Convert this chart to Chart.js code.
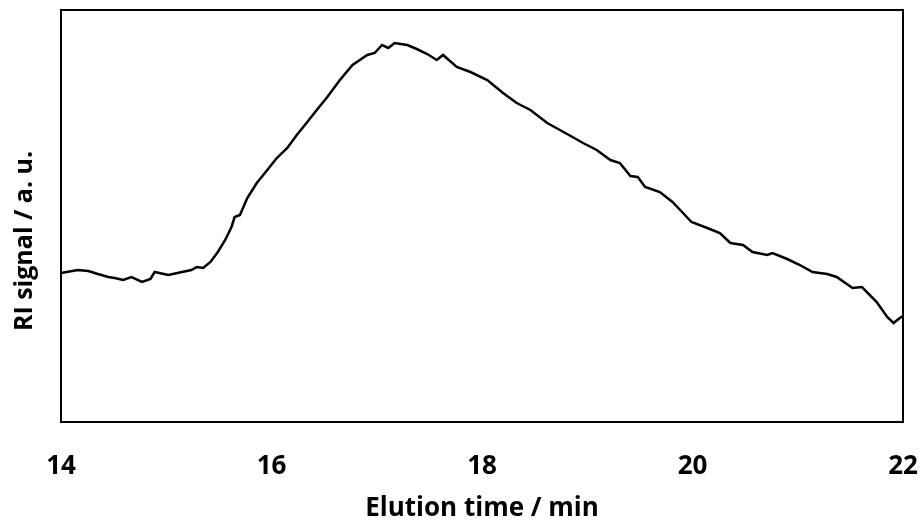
<!DOCTYPE html>
<html>
<head>
<meta charset="utf-8">
<script src="https://cdn.jsdelivr.net/npm/chart.js@4.4.1/dist/chart.umd.min.js"></script>
<style>
    html, body { margin: 0; padding: 0; background: #fff; }
    #wrap { width: 922px; height: 526px; }
</style>
</head>
<body>
<div id="wrap"><canvas id="riChart" width="922" height="526"></canvas></div>
<script>
// Elution time (min) and RI signal (a.u.)
const elutionTime = [
    14.00, 14.16, 14.26, 14.35, 14.45, 14.51, 14.59, 14.67, 14.77, 14.85,
    14.89, 15.02, 15.15, 15.24, 15.29, 15.35, 15.42, 15.49, 15.56, 15.62,
    15.65, 15.70, 15.77, 15.86, 15.96, 16.05, 16.15, 16.24, 16.34, 16.43,
    16.53, 16.65, 16.77, 16.91, 16.98, 17.05, 17.11, 17.17, 17.29, 17.38,
    17.48, 17.57, 17.63, 17.76, 17.89, 18.05, 18.20, 18.33, 18.46, 18.62,
    18.74, 18.86, 18.96, 19.09, 19.22, 19.31, 19.41, 19.48, 19.55, 19.69,
    19.81, 19.91, 19.99, 20.14, 20.26, 20.36, 20.48, 20.57, 20.71, 20.76,
    20.90, 21.02, 21.14, 21.28, 21.37, 21.52, 21.61, 21.75, 21.85, 21.91,
    21.97, 22.00
];
const riSignal = [
    149, 152, 151, 148, 145, 144, 142, 145, 140, 143,
    150, 147, 150, 152, 155, 154, 160, 170, 182, 195,
    205, 207, 224, 239, 252, 264, 274, 287, 300, 312,
    325, 342, 357, 367, 369, 377, 374, 379, 377, 373,
    368, 362, 367, 355, 350, 342, 329, 319, 312, 299,
    292, 285, 279, 272, 262, 259, 246, 245, 235, 230,
    220, 209, 200, 194, 189, 179, 177, 170, 167, 169,
    163, 157, 150, 148, 145, 134, 135, 120, 105, 99,
    104, 106
];
const xTicks = [14, 16, 18, 20, 22];

const xTitle = 'Elution time / min';
const yTitle = 'RI signal / a. u.';
const fontFamily = '"Open Sans", "Noto Sans", sans-serif';

// cadre noir autour de la zone de tracé
const frameBox = {
    id: 'frameBox',
    afterDraw(chart) {
        const { ctx, chartArea: a } = chart;
        ctx.save();
        ctx.strokeStyle = '#000';
        ctx.lineWidth = 2;
        ctx.strokeRect(a.left, a.top, a.right - a.left, a.bottom - a.top);
        ctx.restore();
    }
};

// titre de l'axe Y (décalé vers le bas comme sur l'original)
const sideTitle = {
    id: 'sideTitle',
    afterDraw(chart) {
        const { ctx } = chart;
        ctx.save();
        ctx.translate(25, 241);
        ctx.rotate(-Math.PI / 2);
        ctx.font = 'bold 25px ' + fontFamily;
        ctx.fillStyle = '#000';
        ctx.textAlign = 'center';
        ctx.textBaseline = 'middle';
        ctx.fillText(yTitle, 0, 0);
        ctx.restore();
    }
};

const ctx = document.getElementById('riChart');
new Chart(ctx, {
    type: 'line',
    data: {
        datasets: [{
            data: elutionTime.map((t, i) => ({ x: t, y: riSignal[i] })),
            borderColor: '#000',
            borderWidth: 2.5,
            pointRadius: 0,
            tension: 0,
            fill: false
        }]
    },
    options: {
        responsive: false,
        animation: false,
        layout: { padding: { top: 10, right: 19, left: 0, bottom: 0 } },
        plugins: {
            legend: { display: false },
            tooltip: { enabled: false }
        },
        scales: {
            x: {
                type: 'linear',
                min: 14,
                max: 22,
                afterBuildTicks: scale => {
                    scale.ticks = xTicks.map(v => ({ value: v }));
                },
                afterFit: scale => {
                    scale.height = 104;
                    scale.paddingLeft = 0;
                    scale.paddingRight = 0;
                },
                grid: { display: false, drawTicks: false },
                border: { display: false },
                ticks: {
                    padding: 29,
                    color: '#000',
                    font: { family: fontFamily, size: 26, weight: 'bold', lineHeight: 1.2 }
                },
                title: {
                    display: true,
                    text: xTitle,
                    color: '#000',
                    padding: { top: 0, bottom: 2 },
                    font: { family: fontFamily, size: 26, weight: 'bold', lineHeight: 1.2 }
                }
            },
            y: {
                min: 0,
                max: 412,
                afterFit: scale => { scale.width = 61; },
                grid: { display: false, drawTicks: false },
                border: { display: false },
                ticks: { display: false }
            }
        }
    },
    plugins: [frameBox, sideTitle]
});
</script>
</body>
</html>
